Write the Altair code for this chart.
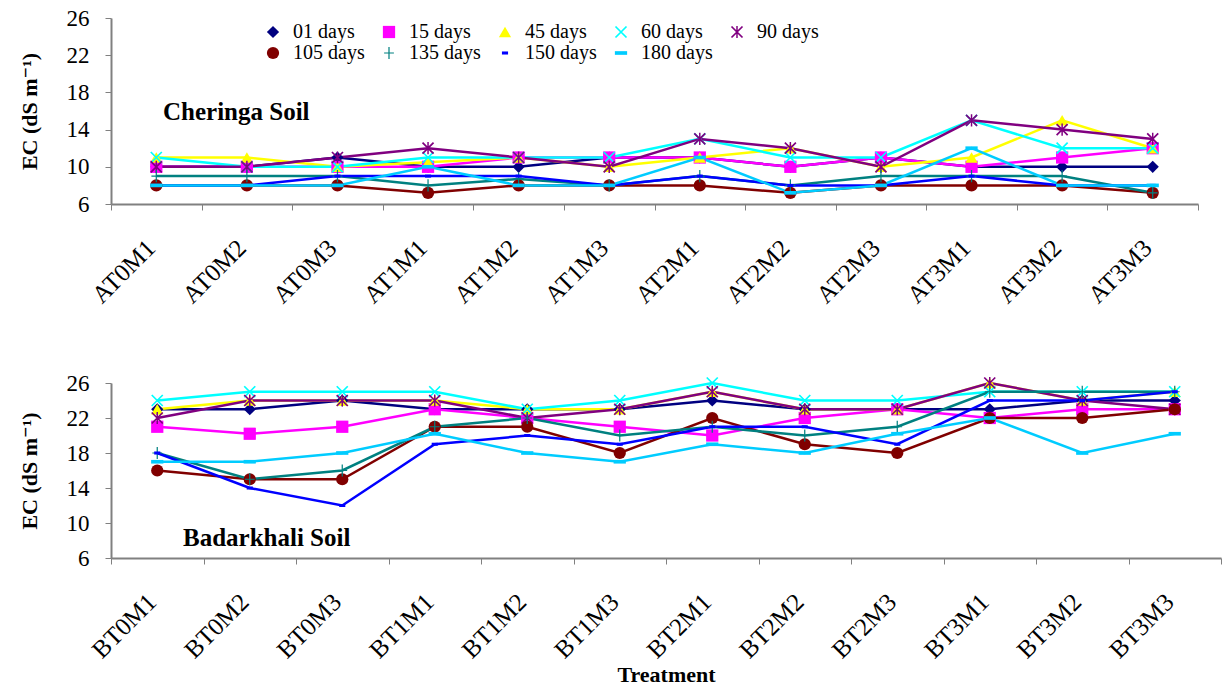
import altair as alt
import pandas as pd

series = ["01 days", "15 days", "45 days", "60 days", "90 days",
          "105 days", "135 days", "150 days", "180 days"]
colors = ["#000080", "#FF00FF", "#FFFF00", "#00FFFF", "#800080",
          "#800000", "#008080", "#0000FF", "#00CCFF"]
X_PATH = "M-1,-0.8L-0.8,-1L1,0.8L0.8,1Z M0.8,-1L1,-0.8L-0.8,1L-1,0.8Z"
STAR_PATH = X_PATH + " M-0.12,-1H0.12V1H-0.12Z"
PLUS_PATH = "M-0.1,-1H0.1V1H-0.1Z M-0.8,-0.1H0.8V0.1H-0.8Z"
DASH_S = "M-0.5,-0.25H0.5V0.25H-0.5Z"
DASH_L = "M-1,-0.3H1V0.3H-1Z"
shapes = ["diamond", "square", "triangle-up", X_PATH, STAR_PATH,
          "circle", PLUS_PATH, DASH_S, DASH_L]

cats_a = ["AT0M1", "AT0M2", "AT0M3", "AT1M1", "AT1M2", "AT1M3",
          "AT2M1", "AT2M2", "AT2M3", "AT3M1", "AT3M2", "AT3M3"]
cats_b = ["BT0M1", "BT0M2", "BT0M3", "BT1M1", "BT1M2", "BT1M3",
          "BT2M1", "BT2M2", "BT2M3", "BT3M1", "BT3M2", "BT3M3"]

# Cheringa soil
a_01 = [10, 10, 11, 10, 10, 11, 11, 10, 11, 10, 10, 10]
a_15 = [10, 10, 10, 10, 11, 11, 11, 10, 11, 10, 11, 12]
a_45 = [11, 11, 10, 10.5, 11, 10, 11, 12, 10, 11, 15, 12]
a_60 = [11, 10, 10, 11, 11, 11, 13, 11, 11, 15, 12, 12]
a_90 = [10, 10, 11, 12, 11, 10, 13, 12, 10, 15, 14, 13]
a_105 = [8, 8, 8, 7.2, 8, 8, 8, 7.2, 8, 8, 8, 7.2]
a_135 = [9, 9, 9, 8, 8.7, 8, 9, 8, 9, 9, 9, 7.2]
a_150 = [8, 8, 9, 9, 9, 8, 9, 8, 8, 9, 8, 8]
a_180 = [8, 8, 8, 10, 8, 8, 11, 7.2, 8, 12, 8, 8]

# Badarkhali soil
b_01 = [23, 23, 24, 23, 23, 23, 24, 23, 23, 23, 24, 24]
b_15 = [21, 20.2, 21, 23, 22, 21, 20, 22, 23, 22, 23, 23]
b_45 = [23, 24, 24, 24, 23, 23, 25, 23, 23, 26, 24, 25]
b_60 = [24, 25, 25, 25, 23, 24, 26, 24, 24, 25, 25, 25]
b_90 = [22, 24, 24, 24, 22, 23, 25, 23, 23, 26, 24, 23]
b_105 = [16, 15, 15, 21, 21, 18, 22, 19, 18, 22, 22, 23]
b_135 = [18, 15, 16, 21, 22, 20, 21, 20, 21, 25, 25, 25]
b_150 = [18, 14, 12, 19, 20, 19, 21, 21, 19, 24, 24, 25]
b_180 = [17, 17, 18, 20.2, 18, 17, 19, 18, 20.2, 22, 18, 20.2]

vals_a = [a_01, a_15, a_45, a_60, a_90, a_105, a_135, a_150, a_180]
vals_b = [b_01, b_15, b_45, b_60, b_90, b_105, b_135, b_150, b_180]


def frame(cats, vals):
    rows = []
    for si, (s, v) in enumerate(zip(series, vals)):
        for ci, (c, e) in enumerate(zip(cats, v)):
            rows.append({"cat": c, "series": s, "ec": e, "idx": ci, "sidx": si})
    return pd.DataFrame(rows)


FONT = "'Liberation Serif', 'Times New Roman', 'DejaVu Serif', serif"
color_scale = alt.Scale(domain=series, range=colors)
shape_scale = alt.Scale(domain=series, range=shapes)
legend = alt.Legend(orient="none", legendX=152, legendY=4, columns=5,
                    direction="horizontal",
                    title=None, labelFont=FONT, labelFontSize=20,
                    labelFontWeight="normal",
                    symbolSize=150, symbolStrokeWidth=0, labelOffset=10,
                    columnPadding=14, rowPadding=1, gridAlign="all",
                    symbolOpacity=1)


def panel(cats, vals, label, lx, ly, width, height, xtitle):
    df = frame(cats, vals)
    axis_kw = dict(labelAngle=-45, labelFont=FONT, labelFontSize=25,
                   labelFontWeight="normal", labelOffset=-14,
                   labelPadding=25, tickBand="extent", tickSize=6,
                   domainColor="#808080", tickColor="#808080",
                   domainWidth=2, labelColor="black", grid=False)
    if xtitle is None:
        xaxis = alt.Axis(title=None, **axis_kw)
    else:
        xaxis = alt.Axis(title=xtitle, titleFont=FONT, titleFontSize=22,
                         titleFontWeight="bold", titlePadding=2, **axis_kw)
    x = alt.X("cat:N", sort=cats,
              scale=alt.Scale(type="band", paddingInner=0, paddingOuter=0),
              axis=xaxis)
    y = alt.Y("ec:Q", scale=alt.Scale(domain=[6, 26], nice=False, zero=False),
              axis=alt.Axis(values=[6, 10, 14, 18, 22, 26], labelFont=FONT,
                            labelFontSize=23, labelFontWeight="normal",
                            tickSize=6, labelPadding=16,
                            domainColor="#808080", tickColor="#808080",
                            domainWidth=2, grid=False, labelColor="black",
                            title="EC (dS m⁻¹)", titleFont=FONT,
                            titleFontSize=22, titleFontWeight="bold",
                            titlePadding=25))
    base = alt.Chart(df).encode(x=x, y=y)
    lines = base.mark_line(strokeWidth=2.5).encode(
        color=alt.Color("series:N", scale=color_scale, legend=legend),
        detail="series:N",
        order=alt.Order("idx:Q"))
    points = base.mark_point(filled=True, opacity=1, size=150).encode(
        color=alt.Color("series:N", scale=color_scale, legend=legend),
        shape=alt.Shape("series:N", scale=shape_scale, legend=legend),
        order=alt.Order("sidx:Q"))
    txt = alt.Chart(pd.DataFrame({"t": [label]})).mark_text(
        align="left", baseline="middle", font=FONT, fontSize=25,
        fontWeight="bold", color="black").encode(
        text="t:N", x=alt.value(lx), y=alt.value(ly))
    return alt.layer(lines, points, txt).properties(width=width, height=height)


top = panel(cats_a, vals_a, "Cheringa Soil", 52, 94, 1087, 186, None)
bottom = panel(cats_b, vals_b, "Badarkhali Soil", 72, 155, 1110, 175, "Treatment")

chart = alt.vconcat(top, bottom, spacing=64).properties(
    padding={"left": 18, "top": 7, "right": 0, "bottom": 0}
).configure(background="white", font=FONT).configure_view(
    stroke=None
).configure_axis(labelFont=FONT, titleFont=FONT).configure_legend(
    labelFont=FONT
).configure_text(font=FONT)

chart.save("out.html", embed_options={"renderer": "svg", "actions": False})
